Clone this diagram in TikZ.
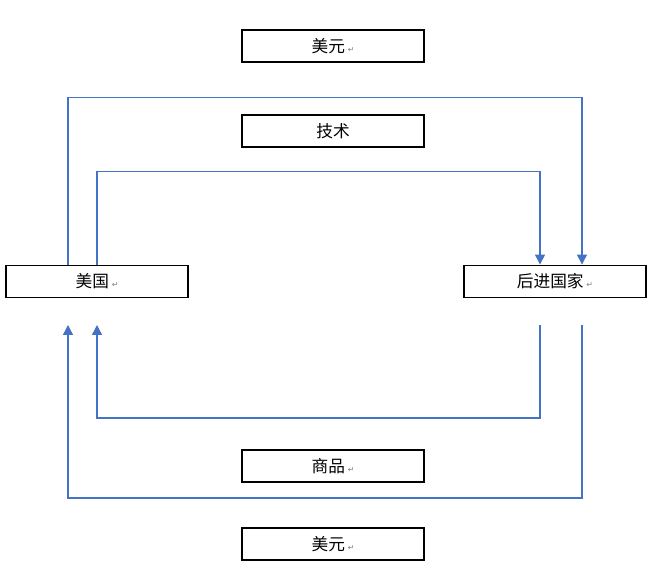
\documentclass[tikz,border=0pt]{standalone}
\usepackage{fontspec}
\usepackage{xcolor}
\usetikzlibrary{arrows.meta}
\newfontfamily\cjk{Noto Sans CJK SC}
\newfontfamily\symfont{DejaVu Sans}
\definecolor{flowblue}{RGB}{68,114,196}
\newcommand{\retmark}{\,{\symfont\color{gray}\fontsize{4.5}{5}\selectfont ↵}}

\begin{document}
\begin{tikzpicture}[x=0.02cm, y=-0.02cm,
        box/.style={draw=black, line width=1.1pt, minimum width=3.64cm, minimum height=0.64cm, inner sep=0pt, font=\cjk\fontsize{9.5}{11}\selectfont},
        flow/.style={draw=flowblue, line width=0.8pt, -{Triangle[length=2mm, width=2mm]}}]
        \useasboundingbox (0, 0) rectangle (658, 580);

        % label boxes
        \node[box] (dollartop) at (333, 46) {美元\retmark};
        \node[box] (tech) at (333, 131) {技术};
        \node[box] (goods) at (333, 466) {商品\retmark};
        \node[box] (dollarbot) at (333, 544) {美元\retmark};

        % countries
        \node[box] (usa) at (97, 281.5) {美国\retmark};
        \node[box] (dev) at (555, 281.5) {后进国家\retmark};

        % free ends below the countries
        \coordinate (usaout) at (68, 325);
        \coordinate (usain) at (97, 325);
        \coordinate (devin) at (540, 325);
        \coordinate (devout) at (582, 325);

        % outer top arrow (dollars)
        \draw[flow] ([xshift=-0.58cm]usa.north) -- ++(0, -167) -| ([xshift=0.54cm]dev.north);
        % inner top arrow (technology)
        \draw[flow] (usa.north) -- ++(0, -93) -| ([xshift=-0.3cm]dev.north);

        % inner bottom arrow (goods)
        \draw[flow] (devin) -- ++(0, 93) -| (usain);
        % outer bottom arrow (dollars)
        \draw[flow] (devout) -- ++(0, 173) -| (usaout);

    \end{tikzpicture}
\end{document}
